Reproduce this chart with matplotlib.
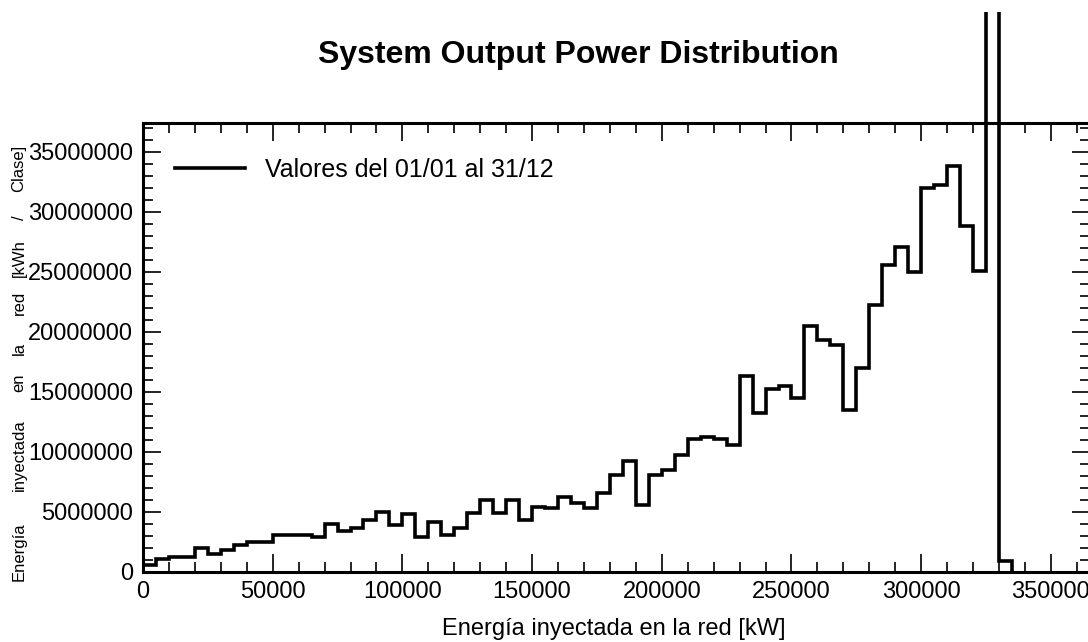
import matplotlib
matplotlib.use("Agg")
import matplotlib.pyplot as plt
import numpy as np
from matplotlib.ticker import MultipleLocator
from matplotlib.transforms import Bbox, TransformedBbox

plt.rcParams['font.family'] = ['Liberation Sans', 'DejaVu Sans']

    # energy per 5000 kW class (kWh)
bin_width = 5000
energia = np.array([
    0.60, 1.05, 1.22, 1.22, 1.95, 1.48, 1.80, 2.20, 2.45, 2.45,
    3.03, 3.03, 3.03, 2.87, 3.95, 3.39, 3.67, 4.28, 4.95, 3.90,
    4.80, 2.92, 4.17, 3.06, 3.61, 4.86, 5.97, 4.86, 5.97, 4.31,
    5.42, 5.28, 6.25, 5.75, 5.28, 6.58, 8.06, 9.25, 5.56, 8.06,
    8.47, 9.72, 11.03, 11.25, 11.03, 10.56, 16.30, 13.20, 15.25, 15.50,
    14.50, 20.50, 19.35, 18.90, 13.50, 17.00, 22.20, 25.60, 27.10, 25.00,
    32.00, 32.20, 33.80, 28.80, 25.10, 48.00, 0.90,
]) * 1e6
bordes = np.arange(len(energia) + 1) * bin_width

titulo = "System Output Power Distribution"
leyenda = "Valores del 01/01 al 31/12"
xlabel = "Energía inyectada en la red [kW]"
ylabel_words = ["Energía", "inyectada", "en", "la", "red", "[kWh", "/", "Clase]"]
ylabel_pos = [552, 455, 383, 348, 303, 258, 218, 168]   # pixel y of each word

W, H = 1088, 642
fig = plt.figure(figsize=(W / 100, H / 100), dpi=100)
ax_left, ax_right, ax_top, ax_bot = 143, 1089.8, 123, 571.7
ax = fig.add_axes([ax_left / W, 1 - ax_bot / H, (ax_right - ax_left) / W, (ax_bot - ax_top) / H])

step = ax.stairs(energia, bordes, baseline=0, color='black', linewidth=2.6, label=leyenda)
    # tall class runs out of the frame and is cut near the top of the picture
clip = Bbox([[ax_left / W, 0], [ax_right / W, 1 - 12 / H]])
step.set_clip_box(TransformedBbox(clip, fig.transFigure))

ax.set_xlim(0, 365000)
ax.set_ylim(0, 37.4e6)
ax.xaxis.set_major_locator(MultipleLocator(50000))
ax.xaxis.set_minor_locator(MultipleLocator(10000))
ax.yaxis.set_major_locator(MultipleLocator(5000000))
ax.yaxis.set_minor_locator(MultipleLocator(1000000))
ax.ticklabel_format(style='plain', useOffset=False)

for s in ax.spines.values():
    s.set_linewidth(2.2)
ax.tick_params(which='both', direction='in', top=True, right=True, width=1.2, labelsize=17, pad=7)
ax.tick_params(which='major', length=13)
ax.tick_params(which='minor', length=7)

ax.legend(loc='center left', bbox_to_anchor=((175 - ax_left) / (ax_right - ax_left), (ax_bot - 170) / (ax_bot - ax_top)),
          frameon=False, fontsize=18, handlelength=2.8, handletextpad=0.8, borderpad=0, borderaxespad=0)

fig.text(578 / W, 1 - 55 / H, titulo, ha='center', va='center', fontsize=23, fontweight='bold')
fig.text(614 / W, 1 - 629 / H, xlabel, ha='center', va='center', fontsize=17)
for word, yp in zip(ylabel_words, ylabel_pos):
    fig.text(19 / W, 1 - yp / H, word, rotation=90, ha='center', va='center', fontsize=12)

fig.savefig("out.png", dpi=100)
